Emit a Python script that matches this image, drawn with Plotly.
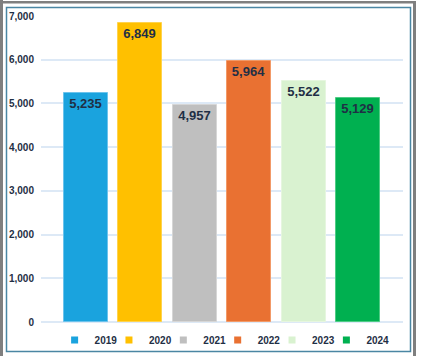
import plotly.graph_objects as go

years = ["2019", "2020", "2021", "2022", "2023", "2024"]
values = [5235, 6849, 4957, 5964, 5522, 5129]
labels = ["5,235", "6,849", "4,957", "5,964", "5,522", "5,129"]
colors = ["#1aa3de", "#ffc000", "#bfbfbf", "#e97132", "#d9f2d0", "#00b050"]
edge_colors = ["#6cc3ec", "#ffd34d", "#d6d6d6", "#f29a68", "#e6f6df", "#4fcc85"]
y_ticks = [0, 1000, 2000, 3000, 4000, 5000, 6000, 7000]
y_tick_text = ["0", "1,000", "2,000", "3,000", "4,000", "5,000", "6,000", "7,000"]

W, H = 422, 356
L, R, T, B = 41, 19, 16, 34
pw, ph = W - L - R, H - T - B
XR = [-0.83, 5.83]

def px(x):
    return (x - L) / pw

def py(y):
    return (H - B - y) / ph

def bar_center_px(i):
    return L + (i - XR[0]) / (XR[1] - XR[0]) * pw

text_color = "#1f2f45"
fig = go.Figure()
legends = {}
for i, (yr, v, lab, c, ec) in enumerate(zip(years, values, labels, colors, edge_colors)):
    lg = "legend" if i == 0 else f"legend{i + 1}"
    fig.add_trace(go.Bar(
        x=[i], y=[v], width=0.81, name=yr, text=[lab],
        textposition="inside", insidetextanchor="end",
        textfont=dict(family="Arial", size=13, color=text_color, weight="bold"),
        marker=dict(color=c, line=dict(color=ec, width=1)),
        showlegend=False, hoverinfo="skip", cliponaxis=False,
    ))
    fig.add_trace(go.Scatter(
        x=[None], y=[None], mode="markers", name=yr,
        marker=dict(symbol="square", size=7, color=c),
        showlegend=True, legend=lg,
    ))
    legends[lg] = dict(
        orientation="h", xref="container", yref="container",
        x=(bar_center_px(i) - 31.5) / W, y=1 - 340 / H,
        xanchor="left", yanchor="middle",
        font=dict(family="Arial", size=10, color=text_color, weight="bold"),
        itemwidth=30, bgcolor="rgba(0,0,0,0)",
    )

shapes = [
    # outer gray frame
    dict(type="rect", xref="paper", yref="paper", x0=px(0), x1=px(3), y0=py(356), y1=py(0),
         fillcolor="#7f7f7f", line=dict(width=0), layer="above"),
    dict(type="rect", xref="paper", yref="paper", x0=px(0), x1=px(416), y0=py(3.5), y1=py(1),
         fillcolor="#7f7f7f", line=dict(width=0), layer="above"),
    dict(type="rect", xref="paper", yref="paper", x0=px(413), x1=px(416), y0=py(356), y1=py(1),
         fillcolor="#7f7f7f", line=dict(width=0), layer="above"),
    # inner teal frame
    dict(type="rect", xref="paper", yref="paper", x0=px(6.5), x1=px(410.5), y0=py(351.5), y1=py(7.5),
         line=dict(color="#4a86a3", width=1.5), fillcolor="rgba(0,0,0,0)", layer="above"),
]

fig.update_layout(
    width=W, height=H,
    margin=dict(l=L, r=R, t=T, b=B, pad=0, autoexpand=False),
    paper_bgcolor="white", plot_bgcolor="white",
    barmode="overlay", bargap=0,
    font=dict(family="Arial", color=text_color),
    xaxis=dict(range=XR, showticklabels=False, showgrid=False,
               zeroline=False, fixedrange=True),
    yaxis=dict(range=[0, 7000], tickvals=y_ticks, ticktext=y_tick_text,
               showgrid=True, gridcolor="#dde9f6", gridwidth=1.5,
               zeroline=True, zerolinecolor="#dde9f6", zerolinewidth=1.5,
               tickfont=dict(family="Arial", size=10, color=text_color, weight="bold"),
               ticklabelstandoff=6, fixedrange=True),
    shapes=shapes,
    **legends,
)

fig.write_html("out.html", config={"displayModeBar": False},
               post_script="document.body.style.margin='0';document.body.style.overflow='hidden';")
